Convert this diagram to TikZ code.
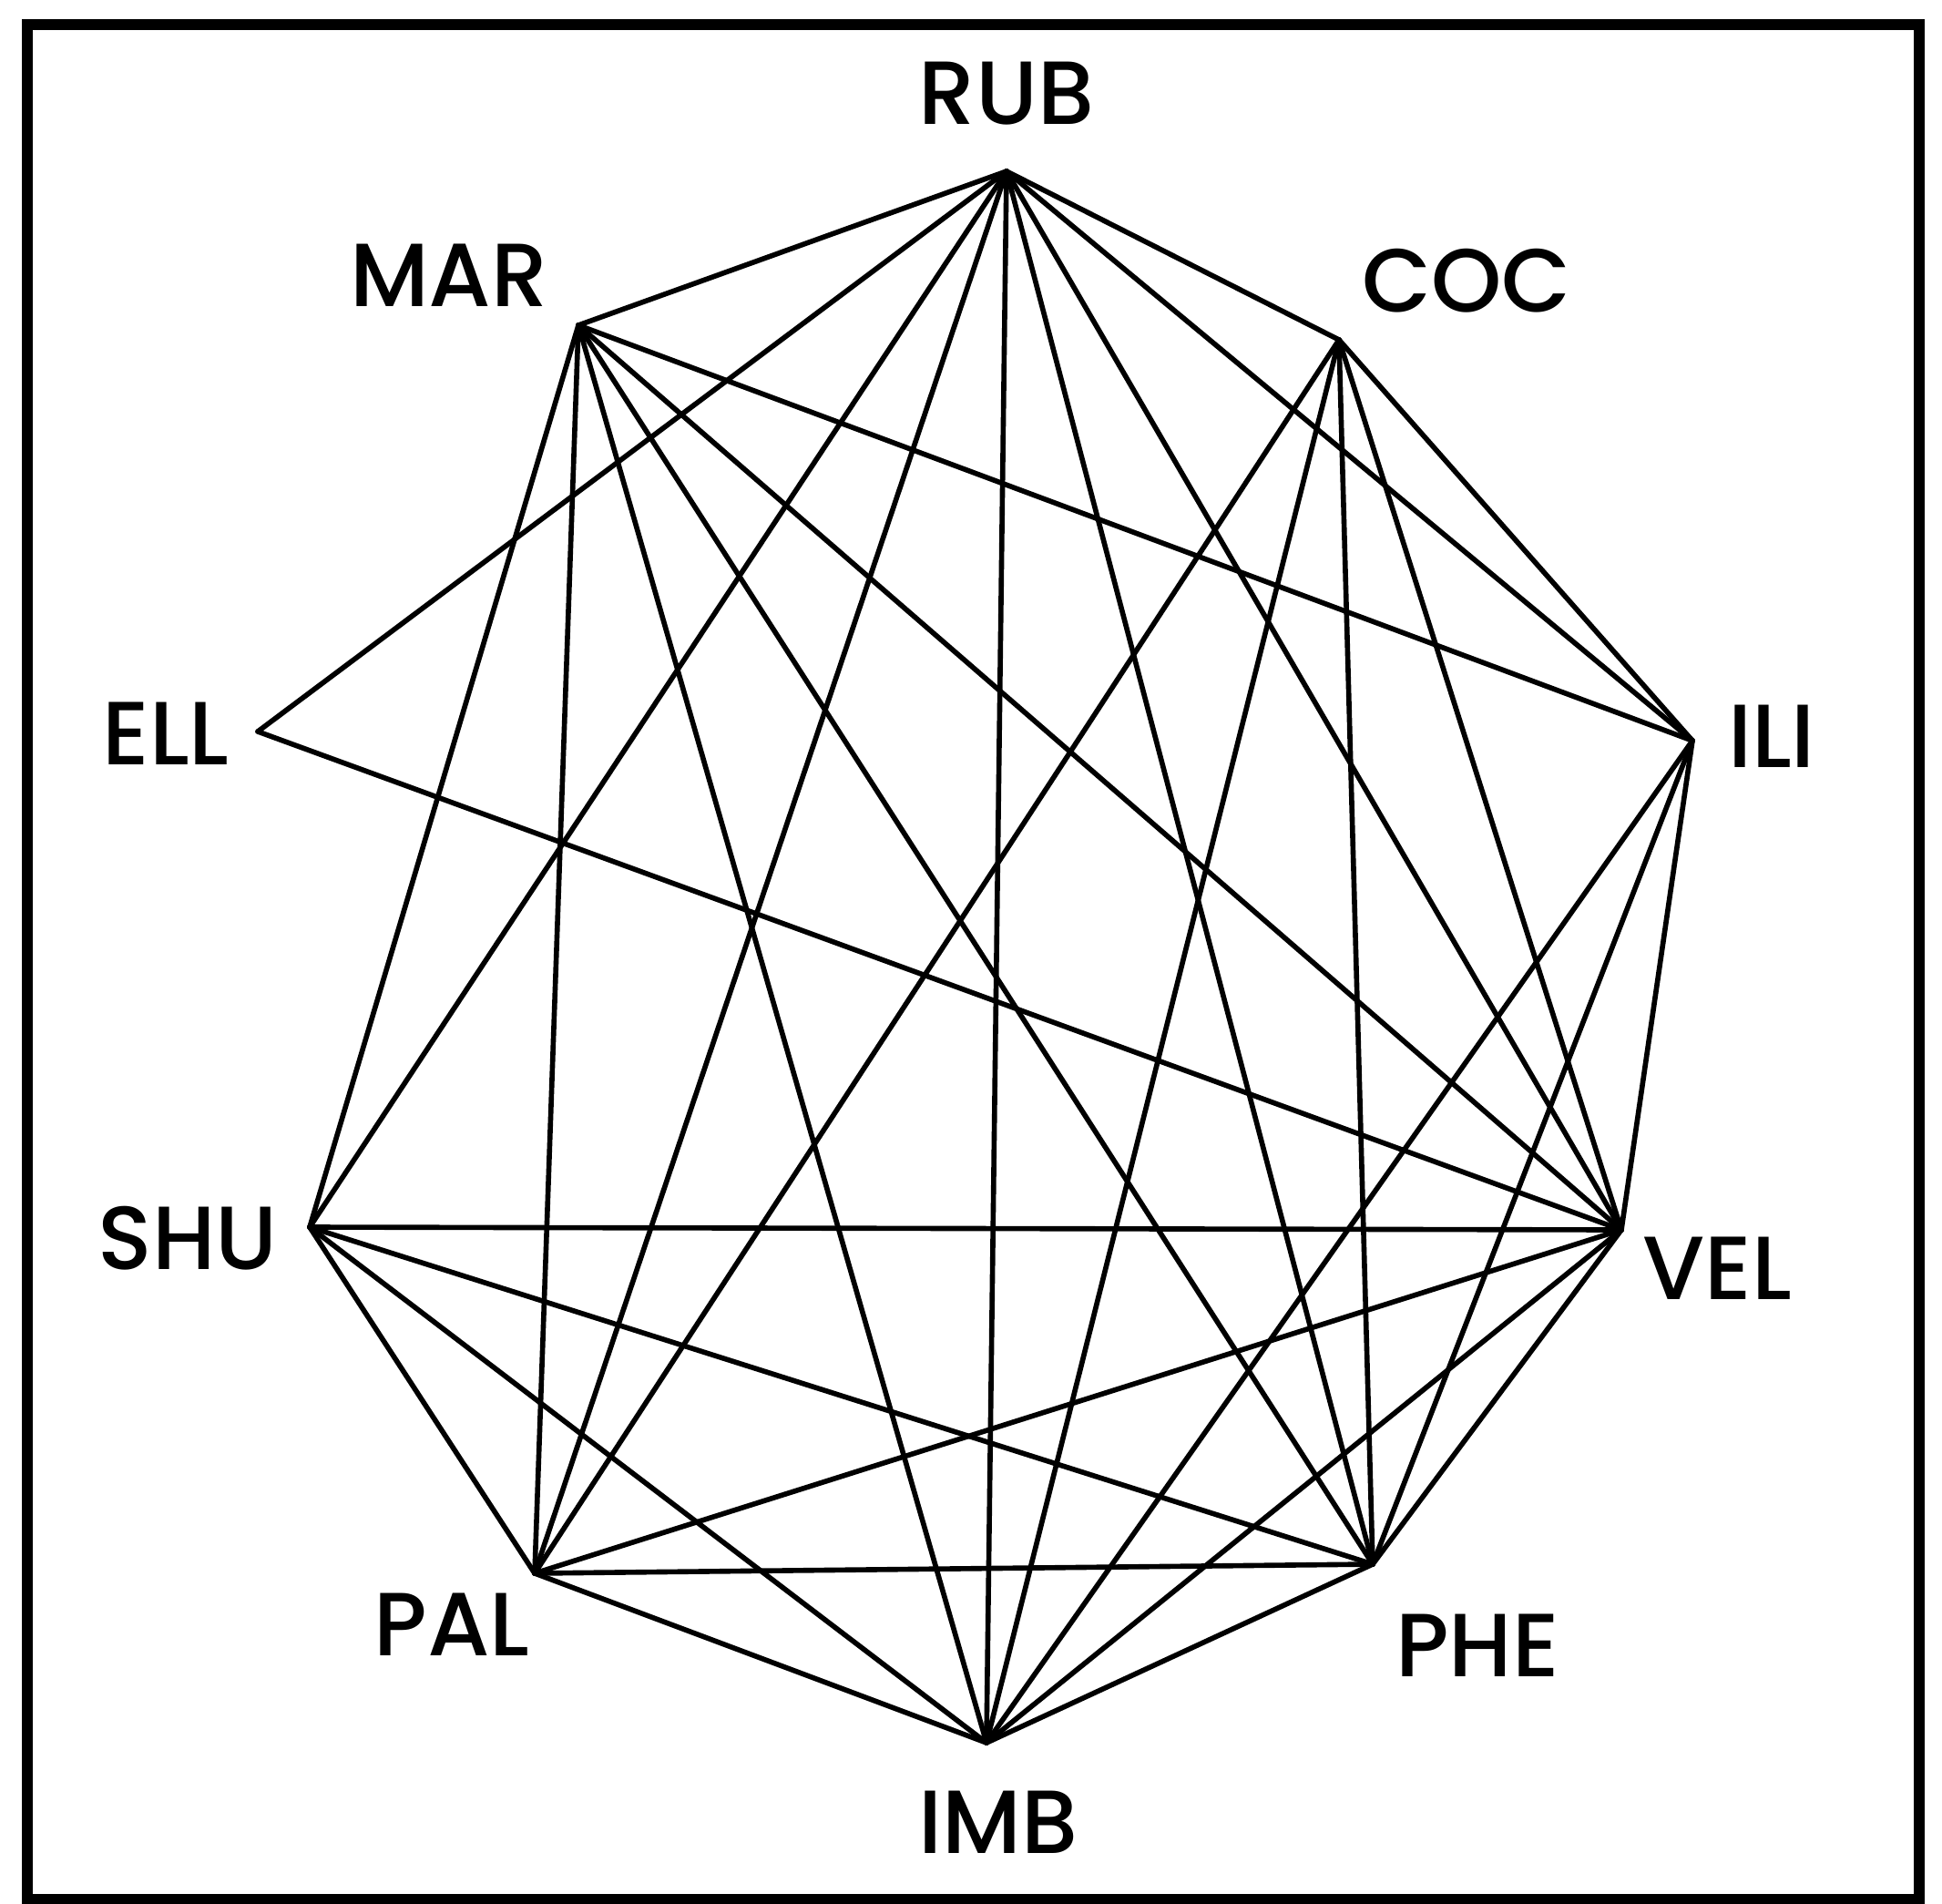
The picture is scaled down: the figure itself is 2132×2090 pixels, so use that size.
\documentclass[tikz,border=0pt]{standalone}
\usepackage{fontspec}
\setmainfont{Poppins}
\newfontfamily\lblfont{Poppins Medium}
\begin{document}
\begin{tikzpicture}[x=0.01cm, y=-0.01cm,
  edge/.style={line width=1.6pt, line cap=round, line join=round},
  lbl/.style={font=\lblfont\fontsize{28}{28}\selectfont, inner sep=0pt, anchor=center},
  frame/.style={line width=3.4pt}]
\useasboundingbox (0,0) rectangle (2132,2090);
\fill[white] (0,0) rectangle (2132,2090);
\draw[frame] (30,27) rectangle (2107,2085);

% vertices of the network
\coordinate (RUB) at (1105,188);
\coordinate (MAR) at (635,357);
\coordinate (COC) at (1470,373);
\coordinate (ELL) at (283,803);
\coordinate (ILI) at (1858,813);
\coordinate (SHU) at (340,1347);
\coordinate (VEL) at (1780,1350);
\coordinate (PAL) at (587,1727);
\coordinate (PHE) at (1507,1717);
\coordinate (IMB) at (1083,1913);

% labels
\node[lbl] (lRUB) at (1105,103) {RUB};
\node[lbl] (lMAR) at (493,302) {MAR};
\node[lbl] (lCOC) at (1610,308) {COC};
\node[lbl] (lELL) at (182,805) {ELL};
\node[lbl] (lILI) at (1945,808) {ILI};
\node[lbl] (lSHU) at (206,1359) {SHU};
\node[lbl] (lVEL) at (1885,1392) {VEL};
\node[lbl] (lPAL) at (496,1783) {PAL};
\node[lbl] (lPHE) at (1622,1806) {PHE};
\node[lbl] (lIMB) at (1096,2000) {IMB};

% connections
\foreach \a/\b in {
  RUB/MAR, RUB/ELL, RUB/SHU, RUB/PAL, RUB/IMB, RUB/PHE, RUB/VEL, RUB/ILI, RUB/COC,
  MAR/ILI, MAR/VEL, MAR/PHE, MAR/IMB, MAR/PAL, MAR/SHU,
  COC/PAL, COC/IMB, COC/PHE, COC/VEL, COC/ILI,
  ELL/VEL,
  ILI/IMB, ILI/PHE, ILI/VEL,
  SHU/VEL, SHU/PHE, SHU/IMB, SHU/PAL,
  VEL/PAL, VEL/IMB, VEL/PHE,
  PAL/PHE, PAL/IMB,
  PHE/IMB}
  \draw[edge] (\a) -- (\b);
\end{tikzpicture}
\end{document}
